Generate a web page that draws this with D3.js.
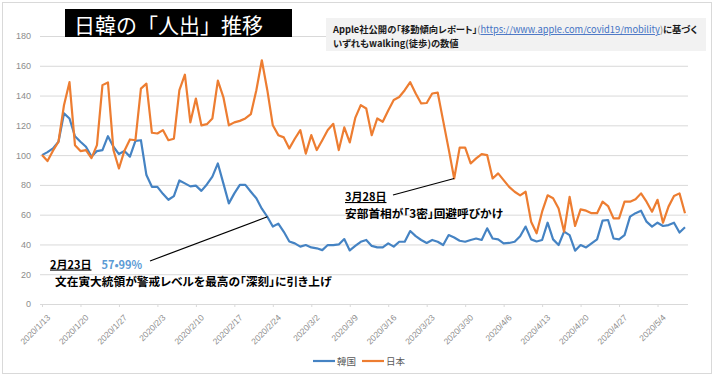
<!DOCTYPE html>
<html>
<head>
<meta charset="utf-8">
<script src="https://cdn.jsdelivr.net/npm/d3@7"></script>
<style>
	body { margin: 0; background: #fff; }
	svg { display: block; font-family: "Noto Sans CJK JP", "Noto Sans", sans-serif; }
	.tight { font-feature-settings: "palt"; }
</style>
</head>
<body>
<div id="chart"></div>
<script>
// Apple mobility (walking), 1/13 = 100
const startDate = new Date(2020, 0, 13);
const seriesNames = ["韓国", "日本"];
const korea = [
	100, 102, 104.5, 109, 128, 124.6, 112.7, 109, 105.6, 99,
	102.7, 103.4, 112.7, 105.6, 100.7, 102.7, 99, 109.6, 110, 86.6,
	78.7, 78.7, 74, 70, 72.5, 83, 81, 79, 79.5, 76,
	80.3, 85.5, 94.4, 81, 67.6, 74.3, 80, 80, 75.4, 71,
	64, 58.6, 52, 54, 48.5, 42, 40.7, 38.5, 39.6, 38,
	37.4, 36.2, 39.6, 39.6, 40, 43.6, 36, 39, 41.8, 43,
	39, 38, 38, 40.7, 38.5, 41.8, 41.8, 49, 45.6, 43,
	41, 43, 41.8, 39.6, 46.3, 44.7, 42.5, 41.8, 43, 44,
	43, 50.8, 44, 43.4, 40.7, 41, 41.8, 45.5, 52, 43.4,
	42, 43, 54.6, 43.4, 39.6, 48.6, 46.3, 35.8, 39.6, 38,
	40.7, 43.4, 56, 56.4, 44, 43.4, 46.3, 58.7, 61, 62.7,
	55.3, 52, 54.6, 52.4, 53, 54.6, 48, 51.5
];
const japan = [
	100, 96, 103, 109, 133.5, 149, 106.7, 102.7, 103.4, 98,
	106.7, 147, 148.8, 103.4, 91, 103, 110.5, 110, 144.7, 148,
	115, 114.5, 116.8, 110, 111, 143.6, 154, 122, 138, 120,
	120.8, 124.6, 150, 139, 120, 122, 123, 124.6, 127.5, 143.6,
	163.7, 143.6, 120, 113.4, 111.9, 104.5, 111, 116.8, 101, 113.4,
	103.4, 110, 116.8, 121, 103.4, 118.6, 108.5, 125, 133.6, 131.3,
	113.4, 124.6, 122.4, 130, 137, 139, 143.6, 149, 141.4, 134.7,
	135, 141.4, 142, 123, 104, 84.3, 105, 105, 94.4, 97.8,
	100.7, 100, 84.3, 87.7, 83.2, 78.7, 75.4, 73, 75.4, 55.3,
	47.5, 62, 73, 71, 64.2, 48.6, 72, 52.4, 63.6, 62.7,
	61, 61, 68.7, 65.8, 57.5, 57.5, 68.7, 68.7, 70.3, 74.3,
	68.7, 62, 70, 54.6, 65.4, 72.5, 74.3, 61
];
const yTicks = [0, 20, 40, 60, 80, 100, 120, 140, 160, 180];
const xTickLabels = [
	"2020/1/13", "2020/1/20", "2020/1/27", "2020/2/3", "2020/2/10", "2020/2/17",
	"2020/2/24", "2020/3/2", "2020/3/9", "2020/3/16", "2020/3/23", "2020/3/30",
	"2020/4/6", "2020/4/13", "2020/4/20", "2020/4/27", "2020/5/4"
];
const colors = ["#4583c3", "#ed7d31"];

const width = 714, height = 376;
const plot = { left: 40, right: 688, top: 36, bottom: 304 };

const dates = korea.map((d, i) => d3.timeDay.offset(startDate, i));
const parseLabel = d3.timeParse("%Y/%-m/%-d");

const x = d3.scaleTime()
	.domain([dates[0], dates[dates.length - 1]])
	.range([42, 685]);
const y = d3.scaleLinear()
	.domain([0, 180])
	.range([plot.bottom, plot.top]);

const svg = d3.select("#chart")
	.append("svg")
	.attr("width", width)
	.attr("height", height);

// outer border
svg.append("rect")
	.attr("x", 2.5).attr("y", 2.5)
	.attr("width", width - 5).attr("height", 371)
	.attr("fill", "#fff")
	.attr("stroke", "#d9d9d9");

// gridlines + y labels
const yAxis = d3.axisLeft(y)
	.tickValues(yTicks)
	.tickSize(-(plot.right - plot.left))
	.tickPadding(9);
svg.append("g")
	.attr("transform", "translate(" + plot.left + ",0)")
	.call(yAxis)
	.call(g => g.select(".domain").remove())
	.call(g => g.selectAll(".tick line").attr("stroke", "#d9d9d9").attr("stroke-width", 1))
	.call(g => g.selectAll(".tick text")
		.attr("fill", "#8c8c8c")
		.style("font-family", "'Liberation Sans', sans-serif")
		.style("font-size", "9px"));

// x axis
const xAxis = d3.axisBottom(x)
	.tickValues(xTickLabels.map(parseLabel))
	.tickFormat(d3.timeFormat("%Y/%-m/%-d"))
	.tickSize(3);
svg.append("g")
	.attr("transform", "translate(0," + plot.bottom + ")")
	.call(xAxis)
	.call(g => g.select(".domain").remove())
	.call(g => g.selectAll(".tick line").attr("stroke", "#d9d9d9"))
	.call(g => g.selectAll(".tick text")
		.attr("fill", "#8c8c8c")
		.attr("text-anchor", "end")
		.attr("transform", "translate(1,7) rotate(-45)")
		.attr("dy", "0.5em")
		.style("font-family", "'Liberation Sans', sans-serif")
		.style("font-size", "8.5px"));

// lines
const line = d3.line()
	.x((d, i) => x(dates[i]))
	.y(d => y(d));
[korea, japan].forEach((series, i) => {
	svg.append("path")
		.datum(series)
		.attr("d", line)
		.attr("fill", "none")
		.attr("stroke", colors[i])
		.attr("stroke-width", 2.2)
		.attr("stroke-linejoin", "round");
});

// title
svg.append("rect")
	.attr("x", 65).attr("y", 9)
	.attr("width", 227).attr("height", 28)
	.attr("fill", "#000");
svg.append("text")
	.attr("x", 74).attr("y", 33)
	.attr("fill", "#fff")
	.style("font-size", "21px")
	.text("日韓の「人出」推移");

// source note
svg.append("rect")
	.attr("x", 326).attr("y", 18)
	.attr("width", 380).attr("height", 33)
	.attr("fill", "#f2f2f2");
const note = svg.append("text")
	.classed("tight", true)
	.attr("x", 333).attr("y", 33)
	.attr("fill", "#1a1a1a")
	.style("font-size", "9.3px")
	.style("font-weight", "bold");
note.append("tspan").text("Apple社公開の「移動傾向レポート」");
note.append("tspan").attr("fill", "#7f7f7f").style("font-weight", "normal").text("(");
note.append("tspan")
	.attr("fill", "#4472c4")
	.style("font-weight", "normal")
	.style("text-decoration", "underline")
	.text("https://www.apple.com/covid19/mobility");
note.append("tspan").attr("fill", "#7f7f7f").style("font-weight", "normal").text(")");
note.append("tspan").text("に基づく");
svg.append("text")
	.classed("tight", true)
	.attr("x", 333).attr("y", 47)
	.attr("fill", "#1a1a1a")
	.style("font-size", "9.3px")
	.style("font-weight", "bold")
	.text("いずれもwalking(徒歩)の数値");

// annotations
const annLine = (x1, y1, x2, y2) => svg.append("line")
	.attr("x1", x1).attr("y1", y1).attr("x2", x2).attr("y2", y2)
	.attr("stroke", "#000").attr("stroke-width", 1.2);
const iFeb23 = 41, iMar28 = 75;
annLine(150, 261, x(dates[iFeb23]), y(korea[iFeb23]));
annLine(393, 195, x(dates[iMar28]), y(japan[iMar28]));

const ann1 = svg.append("text")
	.classed("tight", true)
	.attr("x", 50).attr("y", 268.5)
	.style("font-size", "11px")
	.style("font-weight", "bold");
ann1.append("tspan").style("text-decoration", "underline").text("2月23日");
ann1.append("tspan").attr("dx", 10).attr("fill", "#5b9bd5").text("57•99%");
svg.append("text")
	.classed("tight", true)
	.attr("x", 55).attr("y", 286)
	.style("font-size", "11.7px")
	.style("font-weight", "bold")
	.text("文在寅大統領が警戒レベルを最高の「深刻」に引き上げ");

svg.append("text")
	.classed("tight", true)
	.attr("x", 345).attr("y", 201)
	.style("font-size", "11px")
	.style("font-weight", "bold")
	.style("text-decoration", "underline")
	.text("3月28日");
svg.append("text")
	.classed("tight", true)
	.attr("x", 345).attr("y", 218)
	.style("font-size", "11.7px")
	.style("font-weight", "bold")
	.text("安部首相が「3密」回避呼びかけ");

// legend
const legend = svg.append("g")
	.attr("transform", "translate(313,361)");
const legendItem = legend.selectAll("g")
	.data(seriesNames)
	.enter()
	.append("g")
	.attr("transform", (d, i) => "translate(" + (i * 49) + ",0)");
legendItem.append("line")
	.attr("x1", 0).attr("x2", 22)
	.attr("stroke", (d, i) => colors[i])
	.attr("stroke-width", 2.2);
legendItem.append("text")
	.attr("x", 24).attr("y", 3.5)
	.attr("fill", "#595959")
	.style("font-size", "9.5px")
	.text(d => d);
</script>
</body>
</html>
